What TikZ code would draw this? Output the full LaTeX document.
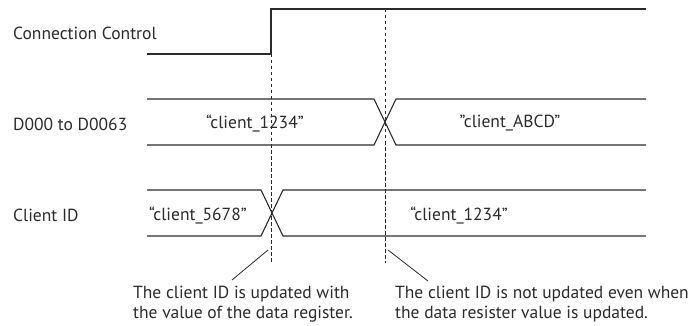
\documentclass[tikz,border=0pt]{standalone}
\usepackage{fontspec}
\setmainfont{PT Sans}
\definecolor{waveGray}{HTML}{2B2B2B}

\tikzset{
  wave/.style={line width=1.1pt, color=waveGray, line join=miter},
  guide/.style={line width=1pt, color=waveGray, dash pattern=on 3.5pt off 2.5pt},
  signame/.style={anchor=west, inner sep=0pt, text=waveGray, font=\fontsize{17.5}{19}\selectfont},
  valtext/.style={inner sep=0pt, text=waveGray, font=\fontsize{17.5}{19}\selectfont},
  notetext/.style={anchor=base west, align=left, inner sep=0pt, text=waveGray, font=\fontsize{17.5}{19.5}\selectfont},
}

\begin{document}
\begin{tikzpicture}[x=1pt, y=-1pt]
  \useasboundingbox (0,0) rectangle (693,326);

  % signal names
  \node[signame] (ccname) at (13,33) {Connection Control};
  \node[signame] (dname) at (13,124) {D000 to D0063};
  \node[signame] (idname) at (13,215) {Client ID};

  % connection control
  \draw[wave] (147,54) -- (271,54) -- (271,9) -- (646,9);

  % data register
  \draw[wave] (147,99) -- (374,99) -- (396,145) -- (646,145);
  \draw[wave] (147,145) -- (374,145) -- (396,99) -- (646,99);
  \node[valtext] (dold) at (255,123) {“client\_1234”};
  \node[valtext] (dnew) at (510,123) {”client\_ABCD”};

  % client id
  \draw[wave] (147,190) -- (261,190) -- (283,236) -- (646,236);
  \draw[wave] (147,236) -- (261,236) -- (283,190) -- (646,190);
  \node[valtext] (idold) at (198,215) {“client\_5678”};
  \node[valtext] (idnew) at (459,215) {“client\_1234”};

  % timing guides
  \coordinate (rise) at (271,54);
  \coordinate (riseend) at (271,263);
  \coordinate (change) at (385,9);
  \coordinate (changeend) at (385,263);
  \draw[guide] (rise) -- (riseend);
  \draw[guide] (change) -- (changeend);

  % notes (base = last line)
  \node[notetext] (note1) at (133,318) {The client ID is updated with\\the value of the data register.};
  \node[notetext] (note2) at (395,318) {The client ID is not updated even when\\the data resister value is updated.};
  \coordinate (tip1) at (268,250);
  \coordinate (foot1) at (232,280);
  \coordinate (tip2) at (388,250);
  \coordinate (foot2) at (428,281);
  \draw[line width=0.8pt, waveGray] (tip1) -- (foot1);
  \draw[line width=0.8pt, waveGray] (tip2) -- (foot2);
\end{tikzpicture}
\end{document}
